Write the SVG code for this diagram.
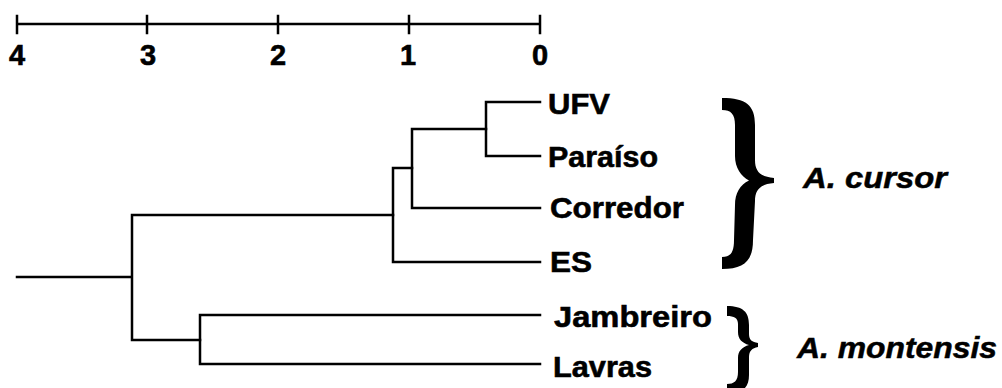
<svg xmlns="http://www.w3.org/2000/svg" width="1002" height="388" viewBox="0 0 1002 388">
<style>
.ln{stroke:#000;stroke-width:2.5;fill:none;stroke-linecap:square}
.lab{font-family:"Liberation Sans",Arial,sans-serif;font-weight:bold;font-size:30px;fill:#000;stroke:#000;stroke-width:0.6}
.num{font-family:"Liberation Sans",Arial,sans-serif;font-weight:bold;font-size:29px;fill:#000;stroke:#000;stroke-width:0.6;text-anchor:middle}
.sp{font-family:"Liberation Sans",Arial,sans-serif;font-weight:bold;font-style:italic;font-size:30px;fill:#000;stroke:#000;stroke-width:0.5}
.br{fill:#000}
</style>
<rect width="1002" height="388" fill="#fff"/>
<g id="scale">
<path class="ln" d="M17,24 H540 M17,16 V33 M147,16 V33 M278,16 V33 M409,16 V33 M540,16 V33"/>
<text class="num" x="17" y="65">4</text>
<text class="num" x="148" y="65">3</text>
<text class="num" x="278" y="65">2</text>
<text class="num" x="408" y="65">1</text>
<text class="num" x="540" y="65">0</text>
</g>
<g id="connectors">
<path class="ln" d="M486,102 H540 M486,156 H540 M486,102 V156"/>
<path class="ln" d="M412,129 H486 M412,208 H540 M412,129 V208"/>
<path class="ln" d="M393,168 H412 M393,262 H540 M393,168 V262"/>
<path class="ln" d="M132,215 H393 M17,277 H132 M132,215 V340 M132,340 H200"/>
<path class="ln" d="M200,315 V364 M200,315 H540 M200,364 H540"/>
</g>
<g id="node-ufv"><text class="lab" x="548" y="114" textLength="62" lengthAdjust="spacingAndGlyphs">UFV</text></g>
<g id="node-paraiso"><text class="lab" x="548" y="167" textLength="110" lengthAdjust="spacingAndGlyphs">Paraíso</text></g>
<g id="node-corredor"><text class="lab" x="550" y="218" textLength="134" lengthAdjust="spacingAndGlyphs">Corredor</text></g>
<g id="node-es"><text class="lab" x="550" y="272" textLength="42" lengthAdjust="spacingAndGlyphs">ES</text></g>
<g id="node-jambreiro"><text class="lab" x="554" y="327" textLength="158" lengthAdjust="spacingAndGlyphs">Jambreiro</text></g>
<g id="node-lavras"><text class="lab" x="553" y="377" textLength="99" lengthAdjust="spacingAndGlyphs">Lavras</text></g>
<g id="group-cursor">
<path class="br" d="M722,98 C746,98 755,105 755,125 L755,160 C755,172 761,177 774,178 L774,183 C761,184 755,189 755,201 L753,240 C753,261 744,269 722,269 L722,257 C731,257 734,252 734,240 L735,205 C735,193 740,185 749,180.5 C741,176 735,168 735,156 L735,125 C735,114 731,110 722,110 Z"/>
<text class="sp" x="803" y="188" textLength="144" lengthAdjust="spacingAndGlyphs">A. cursor</text>
</g>
<g id="group-montensis">
<path class="br" d="M727,306 C743,306 749,312 749,325 L749,334 C749,340 752,342 758,343 L758,347 C752,348 749,351 749,357 L749,375 C749,388 743,393 727,393 L727,384 C734,384 738,381 738,372 L738,358 C738,351 742,347 749,345 C742,343 738,339 738,332 L738,324 C738,318 734,316 727,316 Z"/>
<text class="sp" x="797" y="358" textLength="200" lengthAdjust="spacingAndGlyphs">A. montensis</text>
</g>
</svg>
